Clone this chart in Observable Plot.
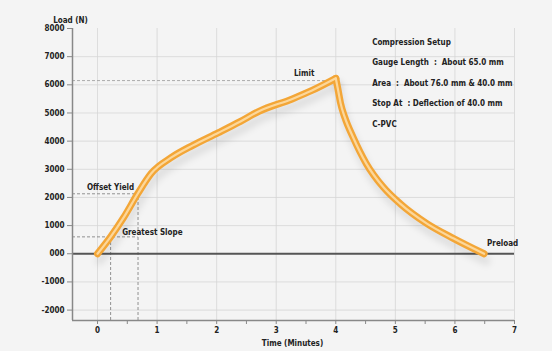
<!DOCTYPE html>
<html><head><meta charset="utf-8">
<script src="https://cdn.jsdelivr.net/npm/d3@7"></script>
<script src="https://cdn.jsdelivr.net/npm/@observablehq/plot@0.6"></script>
<style>
html,body{margin:0;padding:0;background:#f4f4f4;}
#chart{width:552px;height:351px;}
svg{display:block;}
</style></head>
<body><div id="chart"></div>
<script>
// Curve data (time in minutes, load in N)
const time = [0, 0.22, 0.44, 0.68, 0.9, 1.24, 1.6, 2.03, 2.4, 2.71, 3.27, 3.6, 4.0, 4.04, 4.08, 4.15, 4.29, 4.51, 4.8, 5.08, 5.53, 5.98, 6.49];
const load = [0, 600, 1290, 2150, 2850, 3420, 3850, 4300, 4700, 5060, 5500, 5800, 6230, 5800, 5350, 4850, 4140, 3210, 2360, 1780, 1070, 540, 0];
const peakIndex = 12;

const yTicks = [-2000, -1000, 0, 1000, 2000, 3000, 4000, 5000, 6000, 7000, 8000];
const yTickLabels = ["-2000", "-1000", "000", "1000", "2000", "3000", "4000", "5000", "6000", "7000", "8000"];
const xTicks = [0, 0.5, 1, 1.5, 2, 2.5, 3, 3.5, 4, 4.5, 5, 5.5, 6, 6.5, 7];
const xGrid = [0, 1, 2, 3, 4, 5, 6, 7];
const yGrid = [-2000, -1000, 1000, 2000, 3000, 4000, 5000, 6000, 7000];

const limitTime = 4.0, limitLoad = 6150;
const offsetYieldTime = 0.68, offsetYieldLoad = 2130;
const slopeTime = 0.22, slopeLoad = 600;

const infoLines = ["Compression Setup", "Gauge Length  :  About 65.0 mm", "Area  :  About 76.0 mm & 40.0 mm", "Stop At  : Deflection of 40.0 mm", "C-PVC"];

const xDomain = [-0.42, 7];
const yDomain = [-2370, 8000];

// rising and falling branches share the peak point
const pts = [];
time.forEach((t, i) => { if (i <= peakIndex) pts.push({t, l: load[i], p: "up"}); });
time.forEach((t, i) => { if (i >= peakIndex) pts.push({t, l: load[i], p: "down"}); });

const font = "'Liberation Sans Narrow','DejaVu Sans Condensed','Roboto','Liberation Sans',sans-serif";
const lineOpts = {x: "t", y: "l", z: "p", curve: "monotone-x", strokeLinecap: "round", strokeLinejoin: "round"};

const chart = Plot.plot({
  width: 552, height: 351,
  marginLeft: 72, marginRight: 38, marginTop: 28, marginBottom: 31,
  style: {background: "transparent", fontFamily: font, fontSize: "8px", color: "#222", fontWeight: "600"},
  x: {domain: xDomain, ticks: xTicks, tickFormat: d => Number.isInteger(d) ? String(d) : "", tickSize: 4, tickPadding: 3, label: null},
  y: {domain: yDomain, ticks: yTicks, tickFormat: d => yTickLabels[yTicks.indexOf(d)], tickSize: 5, tickPadding: 3, label: null},
  marks: [
    Plot.ruleY(yGrid, {stroke: "#d6d6d6", strokeWidth: 0.8, x1: xDomain[0], x2: 7}),
    Plot.ruleX(xGrid, {stroke: "#d6d6d6", strokeWidth: 0.8, y1: yDomain[0], y2: yDomain[1]}),
    // dashed guides
    Plot.ruleY([limitLoad], {x1: xDomain[0], x2: limitTime, stroke: "#999", strokeWidth: 0.8, strokeDasharray: "3,2"}),
    Plot.ruleY([offsetYieldLoad], {x1: xDomain[0], x2: offsetYieldTime, stroke: "#777", strokeWidth: 0.8, strokeDasharray: "3,2"}),
    Plot.ruleX([offsetYieldTime], {y1: yDomain[0], y2: offsetYieldLoad, stroke: "#777", strokeWidth: 0.8, strokeDasharray: "3,2"}),
    Plot.ruleY([slopeLoad], {x1: xDomain[0], x2: offsetYieldTime, stroke: "#777", strokeWidth: 0.8, strokeDasharray: "3,2"}),
    Plot.ruleX([slopeTime], {y1: yDomain[0], y2: slopeLoad, stroke: "#777", strokeWidth: 0.8, strokeDasharray: "3,2"}),
    // axis lines
    Plot.ruleY([0], {x1: xDomain[0], x2: 7, stroke: "#555", strokeWidth: 2}),
    Plot.ruleX([xDomain[0]], {stroke: "#888", strokeWidth: 1.5}),
    Plot.ruleY([yDomain[0]], {x1: xDomain[0], x2: 7, stroke: "#888", strokeWidth: 1.5}),
    // shadow
    Plot.line(pts, {...lineOpts, stroke: "#000", strokeOpacity: 0.08, strokeWidth: 9, dy: 7, dx: 2, imageFilter: "blur(3px)"}),
    // curve
    Plot.line(pts, {...lineOpts, stroke: "#f3a637", strokeWidth: 7}),
    Plot.line(pts, {...lineOpts, stroke: "#fcd79a", strokeWidth: 2.2}),
    // annotations
    Plot.text(["Limit"], {x: 3.47, y: 6420, textAnchor: "middle", fill: "#222"}),
    Plot.text(["Offset Yield"], {x: 0.22, y: 2360, textAnchor: "middle", fill: "#222"}),
    Plot.text(["Greatest Slope"], {x: 0.92, y: 760, textAnchor: "middle", fill: "#222"}),
    Plot.text(["Preload"], {x: 6.54, y: 370, textAnchor: "start", fill: "#222"}),
    Plot.text(infoLines, {x: 4.61, y: (d, i) => 7520 - i * 730, textAnchor: "start", fill: "#222"}),
    Plot.text(["Load (N)"], {frameAnchor: "top-left", textAnchor: "middle", dx: -2, dy: -11, fill: "#222"}),
    Plot.text(["Time (Minutes)"], {frameAnchor: "bottom", textAnchor: "middle", dx: -1, dy: 25, fill: "#222"})
  ]
});
chart.querySelectorAll('[aria-label="x-axis tick"] path, [aria-label="y-axis tick"] path').forEach(p => p.setAttribute("stroke", "#888"));
document.getElementById("chart").appendChild(chart);
</script>
</body></html>
